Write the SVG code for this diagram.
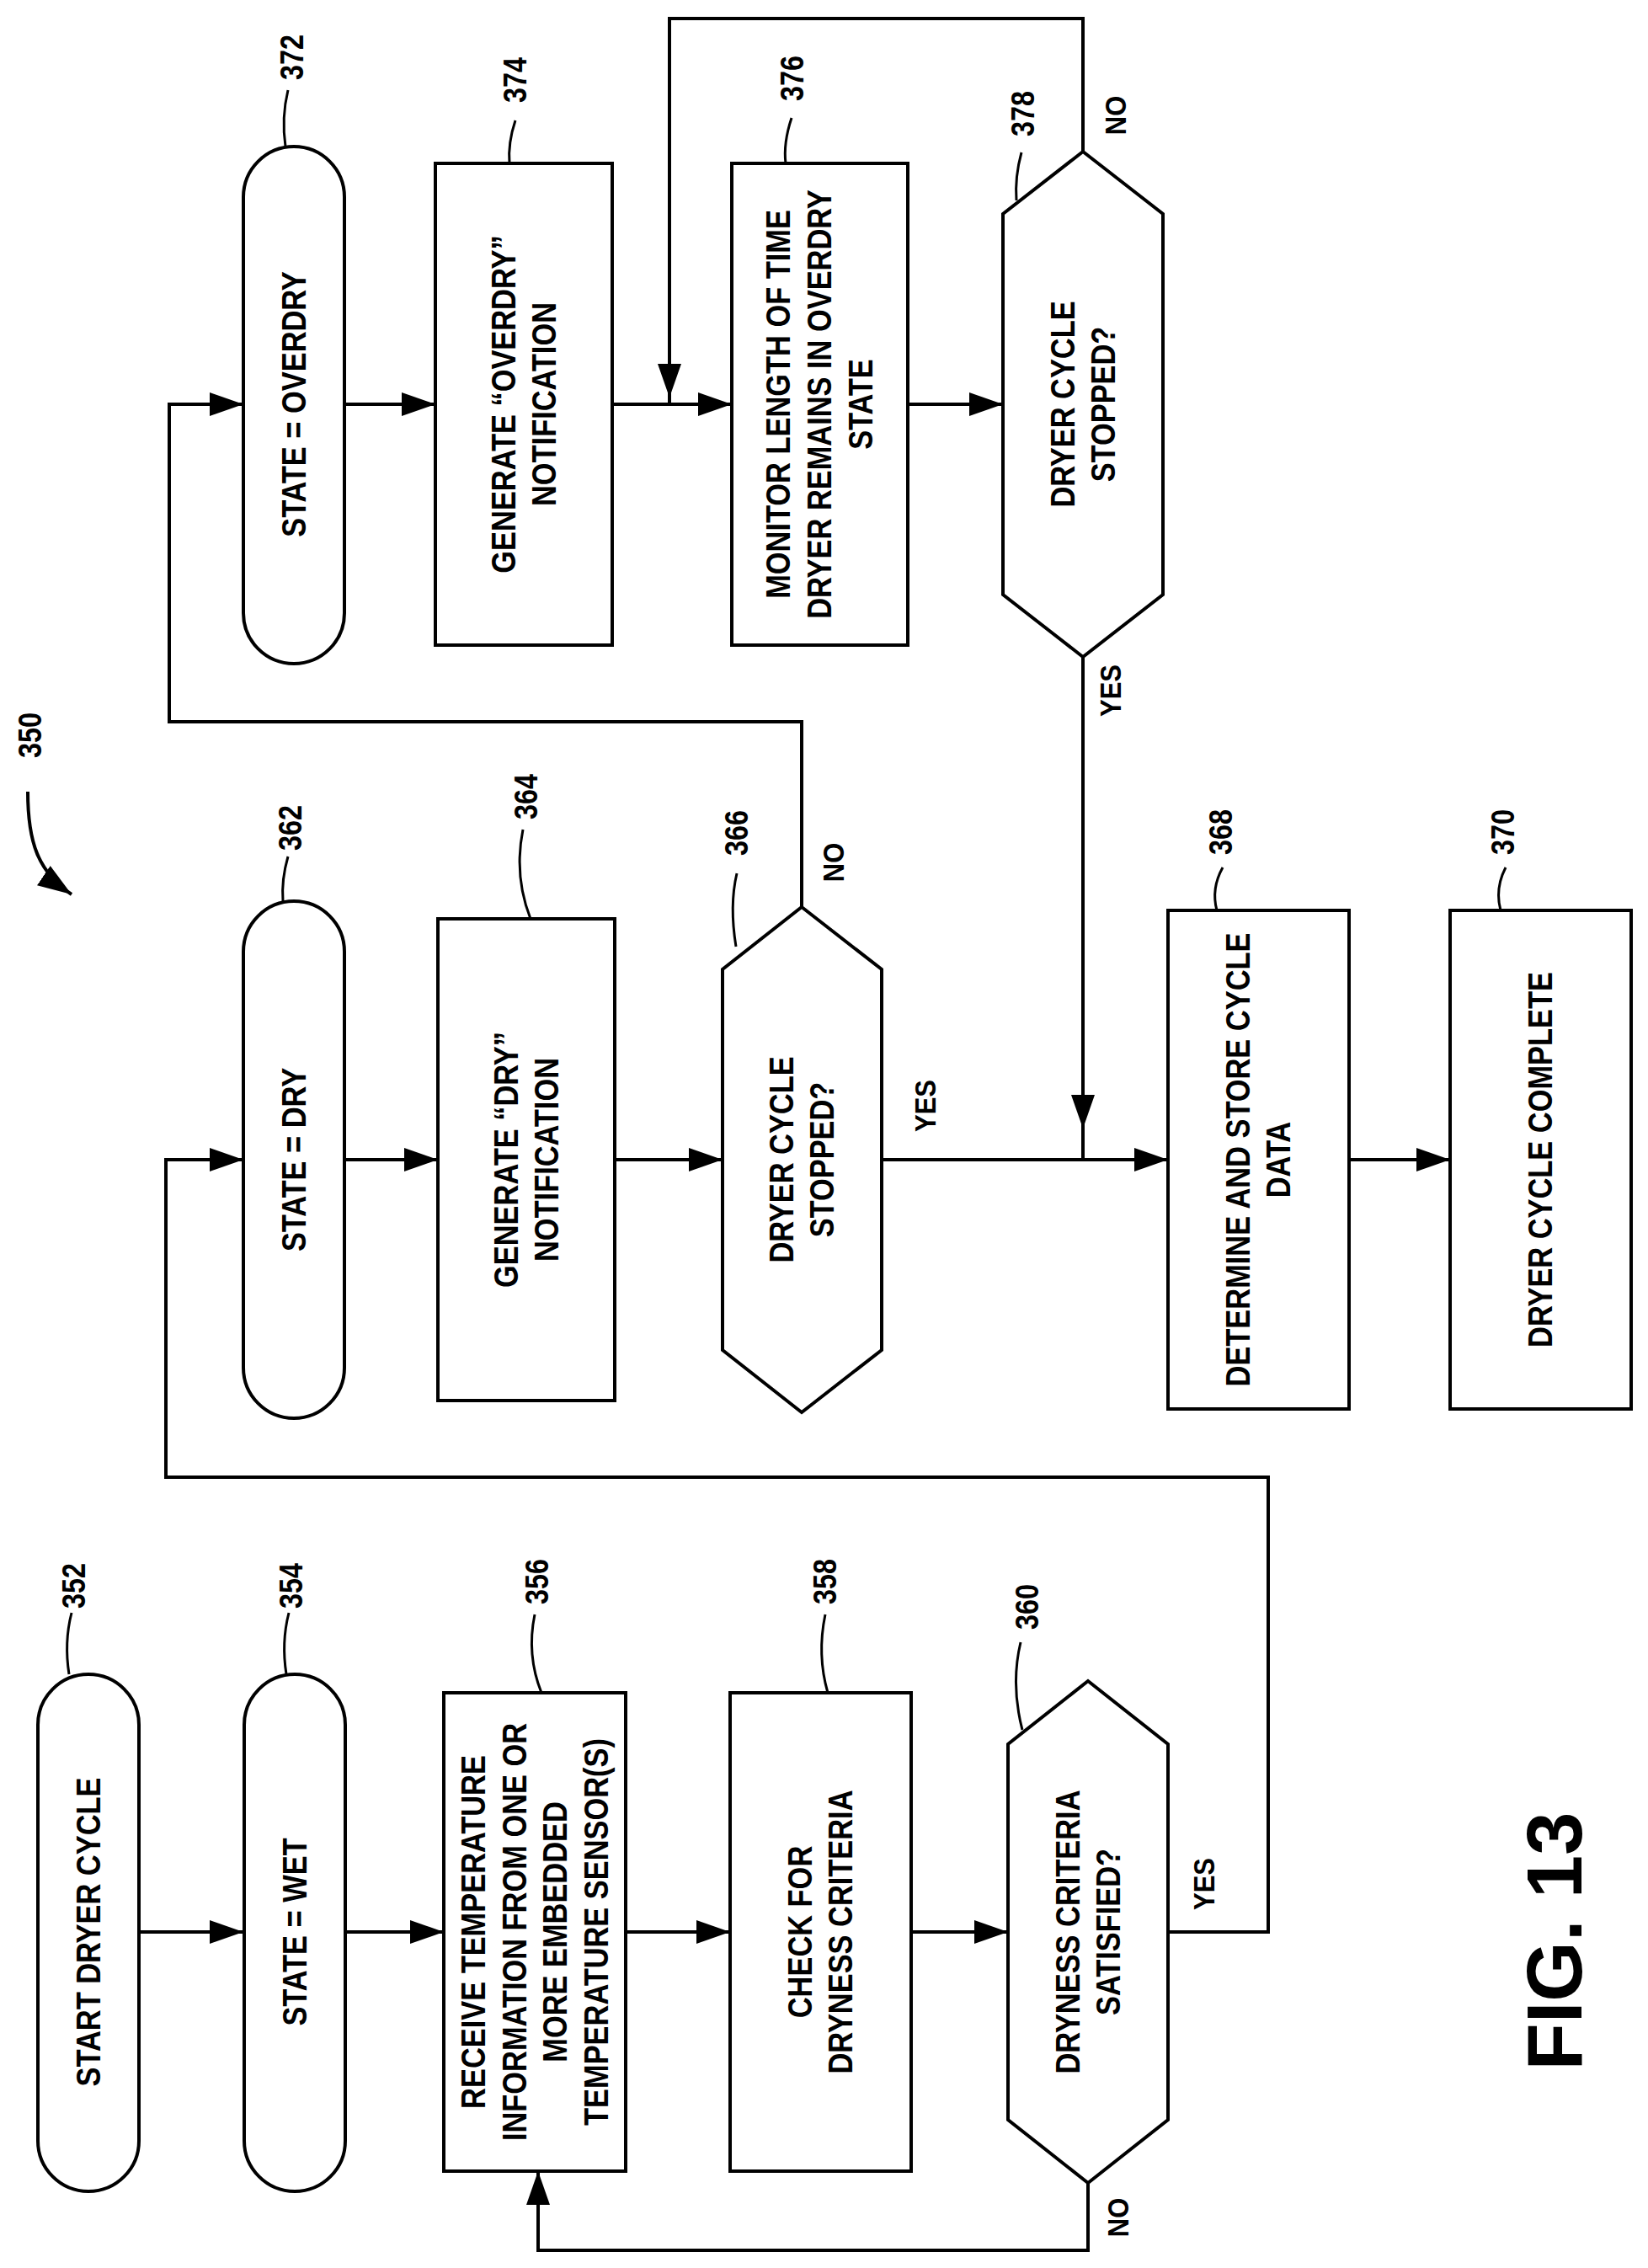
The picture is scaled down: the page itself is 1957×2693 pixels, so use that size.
<svg xmlns="http://www.w3.org/2000/svg" width="1957" height="2693" viewBox="0 0 1957 2693">
<style>
.s{fill:#fff;stroke:#000;stroke-width:4}
.c{fill:none;stroke:#000;stroke-width:4}
.l{fill:none;stroke:#000;stroke-width:3}
.t{font-family:"Liberation Sans",Arial,sans-serif;font-weight:bold;font-size:40px;text-anchor:middle}
.n{font-family:"Liberation Sans",Arial,sans-serif;font-weight:bold;font-size:38px;text-anchor:middle}
.y{font-family:"Liberation Sans",Arial,sans-serif;font-weight:bold;font-size:36px;text-anchor:middle}
.f{font-family:"Liberation Sans",Arial,sans-serif;font-weight:bold;font-size:92px;text-anchor:middle}
</style>
<defs>
<marker id="ah" markerWidth="40" markerHeight="28" refX="40" refY="14" orient="auto" markerUnits="userSpaceOnUse"><path d="M0,0 L40,14 L0,28 z" fill="#000"/></marker>
</defs>
<rect width="1957" height="2693" fill="#fff"/>
<g id="connectors">
<path class="c" d="M409,480 H517" marker-end="url(#ah)"/>
<path class="c" d="M727,480 H869" marker-end="url(#ah)"/>
<path class="c" d="M1078,480 H1191" marker-end="url(#ah)"/>
<path class="c" d="M1286,180 V22 H795 V472" marker-end="url(#ah)"/>
<path class="c" d="M795,472 V480"/>
<path class="c" d="M952,1077 V857 H201 V480 H289" marker-end="url(#ah)"/>
<path class="c" d="M1286,780 V1340" marker-end="url(#ah)"/>
<path class="c" d="M1286,1340 V1377"/>
<path class="c" d="M409,1377 H520" marker-end="url(#ah)"/>
<path class="c" d="M730,1377 H858" marker-end="url(#ah)"/>
<path class="c" d="M1047,1377 H1387" marker-end="url(#ah)"/>
<path class="c" d="M1602,1377 H1722" marker-end="url(#ah)"/>
<path class="c" d="M165,2294 H289" marker-end="url(#ah)"/>
<path class="c" d="M409,2294 H527" marker-end="url(#ah)"/>
<path class="c" d="M743,2294 H867" marker-end="url(#ah)"/>
<path class="c" d="M1082,2294 H1197" marker-end="url(#ah)"/>
<path class="c" d="M1387,2294 H1506 V1754 H197 V1377 H289" marker-end="url(#ah)"/>
<path class="c" d="M1292,2592 V2672 H639 V2578" marker-end="url(#ah)"/>
<path class="c" d="M33,940 C33,1000 45,1035 85,1062" marker-end="url(#ah)"/>
<text class="y" transform="translate(1337,137) rotate(-90) scale(0.86,1)">NO</text>
<text class="y" transform="translate(1331,820) rotate(-90) scale(0.86,1)">YES</text>
<text class="y" transform="translate(1002,1024) rotate(-90) scale(0.86,1)">NO</text>
<text class="y" transform="translate(1111,1313) rotate(-90) scale(0.86,1)">YES</text>
<text class="y" transform="translate(1442,2237) rotate(-90) scale(0.86,1)">YES</text>
<text class="y" transform="translate(1340,2633) rotate(-90) scale(0.86,1)">NO</text>
<text class="n" transform="translate(49,873) rotate(-90) scale(0.85,1)">350</text>
</g>
<g id="n372">
<rect class="s" x="289" y="174" width="120" height="614" rx="60"/>
<text class="t" transform="translate(349,480) rotate(-90) scale(0.86,1)"><tspan x="0" y="14">STATE = OVERDRY</tspan></text>
<path class="l" d="M342,107 Q334,140 339,174"/>
<text class="n" transform="translate(360,68) rotate(-90) scale(0.85,1)">372</text>
</g>
<g id="n374">
<rect class="s" x="517" y="194" width="210" height="572"/>
<text class="t" transform="translate(622,480) rotate(-90) scale(0.86,1)"><tspan x="0" y="-10.5">GENERATE “OVERDRY”</tspan><tspan x="0" y="38.5">NOTIFICATION</tspan></text>
<path class="l" d="M612,143 Q603,170 605,194"/>
<text class="n" transform="translate(625,95) rotate(-90) scale(0.85,1)">374</text>
</g>
<g id="n376">
<rect class="s" x="869" y="194" width="209" height="572"/>
<text class="t" transform="translate(973,480) rotate(-90) scale(0.86,1)"><tspan x="0" y="-35">MONITOR LENGTH OF TIME</tspan><tspan x="0" y="14">DRYER REMAINS IN OVERDRY</tspan><tspan x="0" y="63">STATE</tspan></text>
<path class="l" d="M940,140 Q930,170 933,194"/>
<text class="n" transform="translate(954,93) rotate(-90) scale(0.85,1)">376</text>
</g>
<g id="n378">
<path class="s" d="M1286,180 L1381,254 V706 L1286,780 L1191,706 V254 Z"/>
<text class="t" transform="translate(1286,480) rotate(-90) scale(0.86,1)"><tspan x="0" y="-10.5">DRYER CYCLE</tspan><tspan x="0" y="38.5">STOPPED?</tspan></text>
<path class="l" d="M1213,181 Q1205,210 1207,238"/>
<text class="n" transform="translate(1228,135) rotate(-90) scale(0.85,1)">378</text>
</g>
<g id="n362">
<rect class="s" x="289" y="1070" width="120" height="614" rx="60"/>
<text class="t" transform="translate(349,1377) rotate(-90) scale(0.86,1)"><tspan x="0" y="14">STATE = DRY</tspan></text>
<path class="l" d="M342,1017 Q334,1045 336,1070"/>
<text class="n" transform="translate(358,983) rotate(-90) scale(0.85,1)">362</text>
</g>
<g id="n364">
<rect class="s" x="520" y="1091" width="210" height="572"/>
<text class="t" transform="translate(625,1377) rotate(-90) scale(0.86,1)"><tspan x="0" y="-10.5">GENERATE “DRY”</tspan><tspan x="0" y="38.5">NOTIFICATION</tspan></text>
<path class="l" d="M621,985 Q610,1040 630,1091"/>
<text class="n" transform="translate(638,946) rotate(-90) scale(0.85,1)">364</text>
</g>
<g id="n366">
<path class="s" d="M952,1077 L1047,1151 V1603 L952,1677 L858,1603 V1151 Z"/>
<text class="t" transform="translate(952,1377) rotate(-90) scale(0.86,1)"><tspan x="0" y="-10.5">DRYER CYCLE</tspan><tspan x="0" y="38.5">STOPPED?</tspan></text>
<path class="l" d="M875,1037 Q866,1075 874,1124"/>
<text class="n" transform="translate(888,989) rotate(-90) scale(0.85,1)">366</text>
</g>
<g id="n368">
<rect class="s" x="1387" y="1081" width="215" height="592"/>
<text class="t" transform="translate(1494,1377) rotate(-90) scale(0.86,1)"><tspan x="0" y="-10.5">DETERMINE AND STORE CYCLE</tspan><tspan x="0" y="38.5">DATA</tspan></text>
<path class="l" d="M1452,1030 Q1438,1055 1445,1081"/>
<text class="n" transform="translate(1463,988) rotate(-90) scale(0.85,1)">368</text>
</g>
<g id="n370">
<rect class="s" x="1722" y="1081" width="215" height="592"/>
<text class="t" transform="translate(1829,1377) rotate(-90) scale(0.86,1)"><tspan x="0" y="14">DRYER CYCLE COMPLETE</tspan></text>
<path class="l" d="M1788,1030 Q1775,1055 1782,1081"/>
<text class="n" transform="translate(1798,988) rotate(-90) scale(0.85,1)">370</text>
</g>
<g id="n352">
<rect class="s" x="45" y="1988" width="120" height="614" rx="60"/>
<text class="t" transform="translate(105,2294) rotate(-90) scale(0.86,1)"><tspan x="0" y="14">START DRYER CYCLE</tspan></text>
<path class="l" d="M85,1915 Q76,1950 82,1988"/>
<text class="n" transform="translate(101,1883) rotate(-90) scale(0.85,1)">352</text>
</g>
<g id="n354">
<rect class="s" x="290" y="1988" width="120" height="614" rx="60"/>
<text class="t" transform="translate(350,2294) rotate(-90) scale(0.86,1)"><tspan x="0" y="14">STATE = WET</tspan></text>
<path class="l" d="M343,1915 Q334,1950 340,1988"/>
<text class="n" transform="translate(359,1883) rotate(-90) scale(0.85,1)">354</text>
</g>
<g id="n356">
<rect class="s" x="527" y="2010" width="216" height="568"/>
<text class="t" transform="translate(635,2294) rotate(-90) scale(0.86,1)"><tspan x="0" y="-59.5">RECEIVE TEMPERATURE</tspan><tspan x="0" y="-10.5">INFORMATION FROM ONE OR</tspan><tspan x="0" y="38.5">MORE EMBEDDED</tspan><tspan x="0" y="87.5">TEMPERATURE SENSOR(S)</tspan></text>
<path class="l" d="M635,1917 Q625,1965 643,2010"/>
<text class="n" transform="translate(651,1878) rotate(-90) scale(0.85,1)">356</text>
</g>
<g id="n358">
<rect class="s" x="867" y="2010" width="215" height="568"/>
<text class="t" transform="translate(974,2294) rotate(-90) scale(0.86,1)"><tspan x="0" y="-10.5">CHECK FOR</tspan><tspan x="0" y="38.5">DRYNESS CRITERIA</tspan></text>
<path class="l" d="M980,1917 Q970,1965 983,2010"/>
<text class="n" transform="translate(993,1878) rotate(-90) scale(0.85,1)">358</text>
</g>
<g id="n360">
<path class="s" d="M1292,1996 L1387,2071 V2517 L1292,2592 L1197,2517 V2071 Z"/>
<text class="t" transform="translate(1292,2294) rotate(-90) scale(0.86,1)"><tspan x="0" y="-10.5">DRYNESS CRITERIA</tspan><tspan x="0" y="38.5">SATISFIED?</tspan></text>
<path class="l" d="M1212,1950 Q1200,2000 1214,2054"/>
<text class="n" transform="translate(1233,1908) rotate(-90) scale(0.85,1)">360</text>
</g>
<g id="fig">
<text class="f" transform="translate(1878,2305) rotate(-90)">FIG. 13</text>
</g>
</svg>
